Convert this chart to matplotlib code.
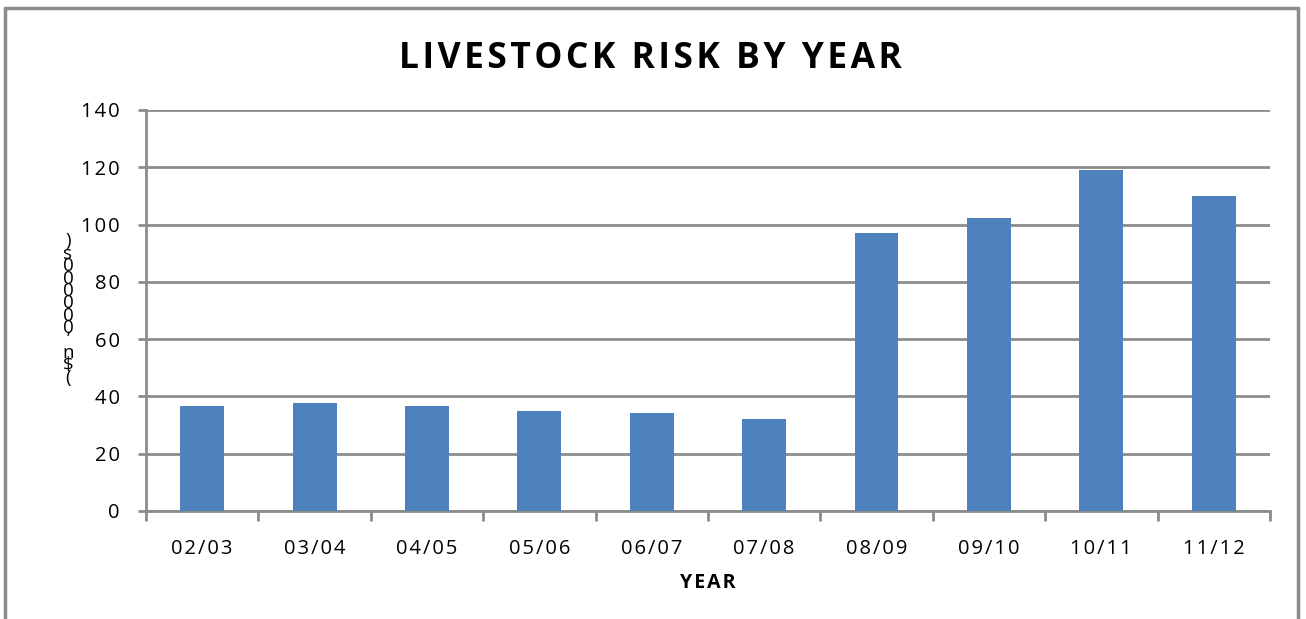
import numpy as np
import matplotlib
matplotlib.use('Agg')
import matplotlib.pyplot as plt
from matplotlib.patches import Rectangle

years = ['02/03', '03/04', '04/05', '05/06', '06/07', '07/08', '08/09', '09/10', '10/11', '11/12']
risk = [36.7, 37.7, 36.7, 34.9, 34.2, 32.1, 97.1, 102.3, 119.1, 110.0]
yticks = [0, 20, 40, 60, 80, 100, 120, 140]
ylabel_chars = [')', 's', '0', '0', '0', '0', '0', '0', '’', 'n', '$', '(']

plt.rcParams['font.family'] = ['Open Sans', 'DejaVu Sans']
grey = '#8c8c8c'


def spaced(s):
    # the original chart uses letter-spaced text; mimic with hair spaces
    return '\u200a'.join(s)


fig = plt.figure(figsize=(13.06, 6.19), dpi=100)
ax = fig.add_axes([0.1118, 0.1745, 0.8606, 0.6478])

# outer chart border
fig.patches.append(Rectangle((0.004, -0.05), 0.9895, 1.037, transform=fig.transFigure,
                             fill=False, edgecolor=grey, linewidth=2.5, clip_on=False))

x = np.arange(len(years))
ax.bar(x, risk, width=0.39, color='#4F81BD', zorder=3)

ax.set_xlim(-0.5, len(years) - 0.5)
ax.set_ylim(0, 140)
ax.set_yticks(yticks)
ax.set_yticklabels([spaced(str(v)) for v in yticks], fontsize=14.5)
ax.yaxis.grid(True, color=grey, linewidth=2, zorder=0)
ax.set_axisbelow(True)

ax.set_xticks(x)
ax.set_xticklabels([spaced(y) for y in years], fontsize=14.5)
ax.set_xticks(np.arange(-0.5, len(years)), minor=True)
ax.tick_params(axis='x', which='major', length=0, pad=20)
ax.tick_params(axis='x', which='minor', length=7, width=2, color=grey)
ax.tick_params(axis='y', length=6, width=2, color=grey, pad=13)

for s in ['top', 'right']:
    ax.spines[s].set_visible(False)
for s in ['left', 'bottom']:
    ax.spines[s].set_color(grey)
    ax.spines[s].set_linewidth(2)

# title is centred on the whole chart, not on the plot area
fig.text(0.4977, 0.890, spaced('LIVESTOCK RISK BY YEAR'), fontsize=25.5,
         fontweight='bold', ha='center', va='baseline')
ax.set_xlabel(spaced('YEAR'), fontsize=14, fontweight='bold', labelpad=10)

# stacked y-axis label as in the original
fig.text(0.052, 0.50, '\n'.join(ylabel_chars), fontsize=13.5, linespacing=0.6,
         ha='center', va='center')

fig.savefig('out.png', dpi=100)
